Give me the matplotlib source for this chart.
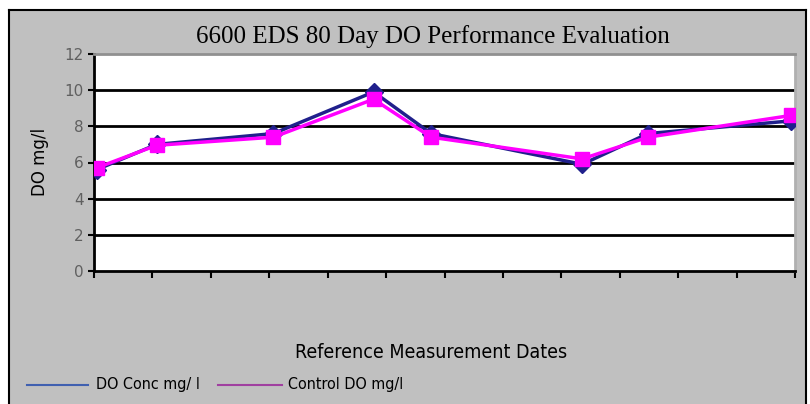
import matplotlib.pyplot as plt
from matplotlib.lines import Line2D
from matplotlib.patches import Rectangle

# days since first reference measurement
dias = [0.3, 7.5, 21.5, 33.5, 40.4, 58.5, 66.4, 83.5]
do_conc = [5.6, 7.0, 7.6, 9.9, 7.6, 5.9, 7.6, 8.3]
control_do = [5.7, 6.95, 7.4, 9.5, 7.4, 6.2, 7.4, 8.6]
ticks_x = [0, 7, 14, 21, 28, 35, 42, 49, 56, 63, 70, 77, 84]
ticks_y = [0, 2, 4, 6, 8, 10, 12]

fig = plt.figure(figsize=(8.1, 4.04), dpi=100)
fig.patch.set_facecolor("white")

# gray chart panel with black frame (top, left, right)
fondo = Rectangle((9 / 810, 0), 797 / 810, 1 - 10 / 404, transform=fig.transFigure,
                  facecolor="#c0c0c0", edgecolor="none", zorder=-1)
fig.add_artist(fondo)
for xs, ys in [([9 / 810, 806 / 810], [1 - 10 / 404] * 2),
               ([9 / 810] * 2, [0, 1 - 10 / 404]),
               ([806 / 810] * 2, [0, 1 - 10 / 404])]:
    fig.add_artist(Line2D(xs, ys, transform=fig.transFigure, color="black", lw=1.5))

ax = fig.add_axes([94 / 810, 1 - 271 / 404, 701 / 810, 217 / 404])
ax.set_zorder(2)
ax.set_facecolor("white")

for v in ticks_y[1:-1]:
    ax.axhline(v, color="black", lw=2, zorder=1)

ax.plot(dias, do_conc, color="#20208c", lw=2.5, marker="D", ms=9, zorder=3)
ax.plot(dias, control_do, color="#ff00ff", lw=2.5, marker="s", ms=10, zorder=4)

ax.set_xlim(0, 84)
ax.set_ylim(0, 12)
ax.set_xticks(ticks_x)
ax.set_xticklabels([])
ax.set_yticks(ticks_y)
ax.tick_params(axis="y", labelsize=11, labelcolor="#606060", length=4, width=1.5)
ax.tick_params(axis="x", length=5, width=1.5, direction="out")

ax.spines["left"].set_linewidth(2)
ax.spines["bottom"].set_linewidth(2)
ax.spines["top"].set_color("#909090")
ax.spines["top"].set_linewidth(2)
ax.spines["right"].set_color("#b0b0b0")
ax.spines["right"].set_linewidth(2)

fig.text(433 / 810, 1 - 37 / 404, "6600 EDS 80 Day DO Performance Evaluation",
         ha="center", va="center", fontsize=18, family="Liberation Serif")
fig.text(40 / 810, 1 - 162 / 404, "DO mg/l", rotation=90, ha="center", va="center", fontsize=12)
fig.text(431 / 810, 1 - 353 / 404, "Reference Measurement Dates",
         ha="center", va="center", fontsize=14, fontstretch="condensed")

# legend at the bottom left
fig.add_artist(Line2D([27 / 810, 88 / 810], [1 - 385 / 404] * 2, transform=fig.transFigure,
                      color="#4060b0", lw=1.5))
fig.text(96 / 810, 1 - 385 / 404, "DO Conc mg/ l", ha="left", va="center", fontsize=11.5,
         fontstretch="condensed")
fig.add_artist(Line2D([218 / 810, 282 / 810], [1 - 385 / 404] * 2, transform=fig.transFigure,
                      color="#a040a0", lw=1.5))
fig.text(288 / 810, 1 - 385 / 404, "Control DO mg/l", ha="left", va="center", fontsize=11.5,
         fontstretch="condensed")

fig.savefig("out.png", dpi=100)
